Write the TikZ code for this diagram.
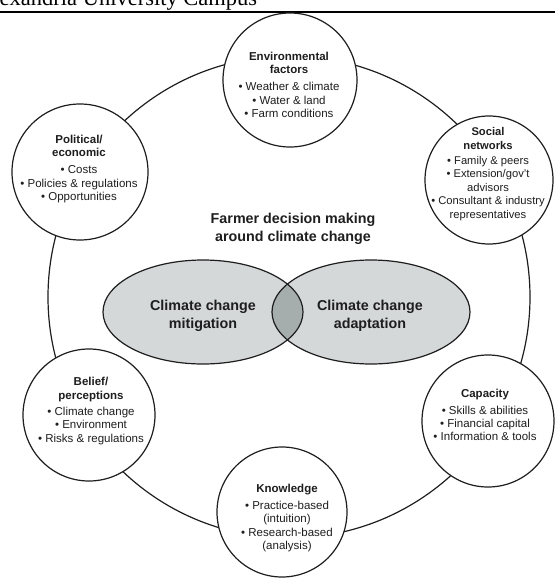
\documentclass[tikz,border=0pt]{standalone}
\usepackage{fontspec}
\setmainfont{Liberation Sans}
\newfontfamily\hdrfont{Liberation Serif}
\definecolor{ink}{RGB}{30,30,30}
\definecolor{lightgr}{RGB}{212,216,216}
\definecolor{darkgr}{RGB}{166,174,173}
\begin{document}
\begin{tikzpicture}[x=1pt,y=-1pt,
  ring/.style={draw=ink,line width=1.2pt},
  sat/.style={circle,draw=ink,fill=white,line width=1.2pt,inner sep=0pt},
  sattext/.style={align=center,text=ink,inner sep=0pt,font=\fontsize{11.5}{13.4}\selectfont},
  bigtext/.style={align=center,text=ink,inner sep=0pt,font=\bfseries\fontsize{14.3}{17.5}\selectfont}]
\useasboundingbox (0,0) rectangle (555,578);
\clip (0,0) rectangle (555,578);
% header
\node[anchor=base west,inner sep=0pt,font=\hdrfont\fontsize{22.5}{27}\selectfont] (hdr) at (-0.5,5.5) {exandria University Campus};
\draw[line width=1.3pt,black] (0,12) -- (555,12);
% ring
\draw[ring] (289,297) circle [radius=241pt];
% satellites
\node[sat,minimum size=134pt] (env) at (290,80) {};
\node[sat,minimum size=128pt] (soc) at (489,180) {};
\node[sat,minimum size=132pt] (cap) at (488,421) {};
\node[sat,minimum size=130pt] (kno) at (282,512) {};
\node[sat,minimum size=132pt] (bel) at (89,415) {};
\node[sat,minimum size=136pt] (pol) at (80,172) {};
% satellite texts
\node[sattext] (envt) at (289,85) {\textbf{Environmental}\\\textbf{factors}\\[3.5pt]• Weather \& climate\\• Water \& land\\• Farm conditions};
\node[sattext,font=\fontsize{11.2}{13.4}\selectfont] (soct) at (488,174) {\textbf{Social}\\\textbf{networks}\\[2pt]• Family \& peers\\• Extension/gov't\\advisors\\• Consultant \& industry\\representatives};
\node[sattext] (capt) at (485,415) {\textbf{Capacity}\\[3.5pt]• Skills \& abilities\\• Financial capital\\• Information \& tools};
\node[sattext] (knot) at (287,518) {\textbf{Knowledge}\\[3.5pt]• Practice-based\\(intuition)\\• Research-based\\(analysis)};
\node[sattext] (belt) at (91,411) {\textbf{Belief/}\\\textbf{perceptions}\\[3pt]• Climate change\\• Environment\\• Risks \& regulations};
\node[sattext] (polt) at (79,169) {\textbf{Political/}\\\textbf{economic}\\[3.5pt]• Costs\\• Policies \& regulations\\• Opportunities};
% title
\node[bigtext] (title) at (293,229) {Farmer decision making\\around climate change};
% Venn
\fill[lightgr] (203,312) ellipse [x radius=100pt,y radius=52pt];
\fill[lightgr] (371,312) ellipse [x radius=99pt,y radius=52pt];
\begin{scope}
  \clip (203,312) ellipse [x radius=100pt,y radius=52pt];
  \fill[darkgr] (371,312) ellipse [x radius=99pt,y radius=52pt];
\end{scope}
\draw[ring] (203,312) ellipse [x radius=100pt,y radius=52pt];
\draw[ring] (371,312) ellipse [x radius=99pt,y radius=52pt];
\node[bigtext] (mit) at (203,316) {Climate change\\mitigation};
\node[bigtext] (ada) at (370,316) {Climate change\\adaptation};
\end{tikzpicture}
\end{document}
